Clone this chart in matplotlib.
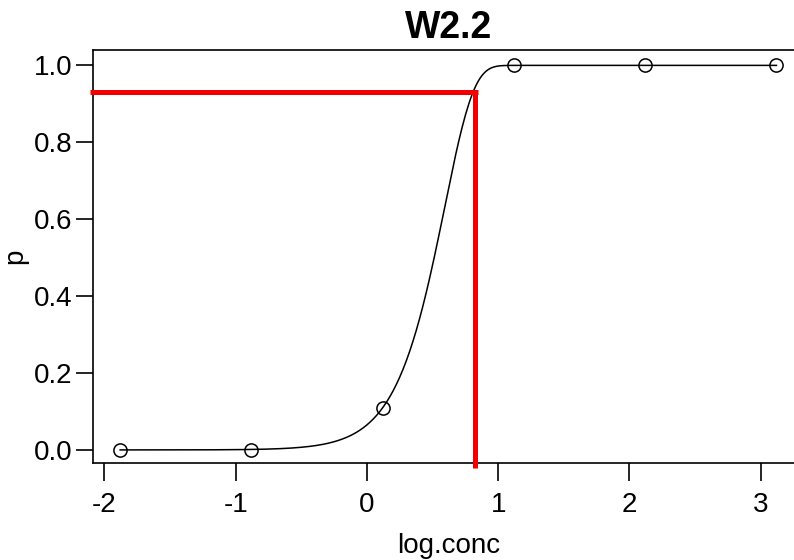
import numpy as np
import matplotlib.pyplot as plt

plt.rcParams['font.family'] = ['Liberation Sans', 'DejaVu Sans']

# observed points
log_conc = [-1.88, -0.88, 0.12, 1.12, 2.12, 3.12]
p = [0.0, 0.0, 0.11, 1.0, 1.0, 1.0]

# fitted W2.2 parameters
b = 4.55
e = 0.593

# red guide lines
ed_x = 0.82
ed_y = 0.932

xticks = [-2, -1, 0, 1, 2, 3]
yticks = [0.0, 0.2, 0.4, 0.6, 0.8, 1.0]

fig = plt.figure(figsize=(7.94, 5.60), dpi=100)
ax = fig.add_axes([93 / 794, 97 / 560, (804 - 93) / 794, (463 - 50) / 560])

xs = np.linspace(min(log_conc), max(log_conc), 400)
ax.plot(xs, 1 - np.exp(-np.exp(b * (xs - e))), color='black', lw=1.1)
ax.plot(log_conc, p, 'o', mfc='none', mec='black', ms=9.5, mew=1.1)

ax.plot([-2.11, ed_x + 0.03], [ed_y, ed_y], color='#f20000', lw=3.6,
        clip_on=False, solid_capstyle='butt', zorder=5)
ax.plot([ed_x, ed_x], [-0.048, ed_y + 0.005], color='#f20000', lw=3.6,
        clip_on=False, solid_capstyle='butt', zorder=5)

ax.set_xlim(-2.087, 3.33)
ax.set_ylim(-0.034, 1.04)
ax.set_xticks(xticks)
ax.set_xticklabels([str(t) for t in xticks])
ax.set_yticks(yticks)
ax.set_yticklabels([f'{t:.1f}' for t in yticks])

for s in ax.spines.values():
    s.set_linewidth(1.2)
ax.tick_params(axis='x', length=13, width=1.2, labelsize=20, pad=8)
ax.tick_params(axis='y', length=12, width=1.2, labelsize=20, pad=3)

ax.set_xlabel('log.conc', fontsize=20, labelpad=11)
ax.set_ylabel('p', fontsize=20, labelpad=4)
ax.set_title('W2.2', fontsize=27, fontweight='bold', pad=9)

fig.savefig('out.png', dpi=100)
